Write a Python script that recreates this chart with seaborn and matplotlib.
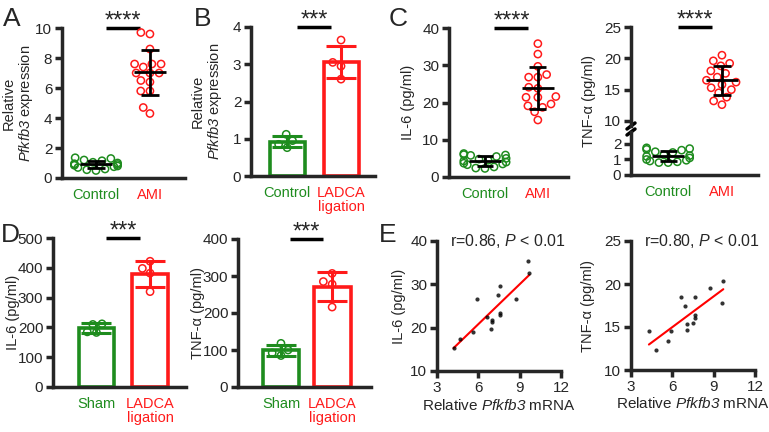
import numpy as np
import pandas as pd
import matplotlib.pyplot as plt
import seaborn as sns

# ---- data ----
a_labels = ['Control', 'AMI']
a_ctrl = [1.35, 1.3, 1.2, 1.15, 1.05, 1.0, 0.95, 0.9, 0.88, 0.85, 0.8, 0.75, 0.7, 0.6, 0.55, 0.5]
a_ami = [9.7, 9.6, 8.6, 7.6, 7.6, 7.6, 7.4, 7.0, 7.0, 7.0, 6.5, 6.4, 5.8, 5.8, 4.7, 4.3]

b_labels = ['Control', 'LADCA\nligation']
b_ctrl = [0.76, 0.95, 1.12, 0.85]
b_ladca = [3.65, 2.6, 3.05, 2.95]

c_labels = ['Control', 'AMI']
c_il6_ctrl = [6.3, 6.0, 5.9, 5.8, 5.5, 5.0, 4.8, 4.5, 4.3, 4.0, 3.7, 3.5, 3.3, 2.7, 2.4, 2.3]
c_il6_ami = [35.8, 33.0, 29.7, 26.8, 26.8, 27.5, 23.8, 24.1, 21.4, 21.4, 21.6, 19.6, 19.1, 18.7, 17.5, 15.3]
c_tnf_ctrl = [1.75, 1.7, 1.65, 1.6, 1.5, 1.45, 1.3, 1.25, 1.2, 1.1, 1.0, 0.95, 0.9, 0.85, 0.8, 0.8]
c_tnf_ami = [20.5, 19.6, 19.2, 18.8, 18.0, 17.6, 17.0, 16.5, 16.2, 15.8, 15.3, 15.0, 14.5, 13.8, 13.2, 12.6]

d_labels = ['Sham', 'LADCA\nligation']
d_il6_sham = [185, 210, 212, 183]
d_il6_ladca = [422, 398, 382, 320]
d_tnf_sham = [85, 118, 100, 92]
d_tnf_ladca = [307, 278, 285, 216]

e_pfk_il6 = [4.2, 4.7, 5.6, 5.9, 6.6, 6.9, 7.0, 7.0, 7.45, 7.55, 7.6, 7.6, 8.7, 9.6, 9.7]
e_il6 = [15.2, 17.5, 18.9, 26.6, 22.5, 19.8, 21.7, 21.3, 27.5, 29.6, 23.3, 22.9, 26.7, 35.4, 32.7]
e_pfk_tnf = [4.3, 4.8, 5.7, 5.9, 6.65, 6.95, 7.03, 7.03, 7.5, 7.65, 7.65, 7.65, 8.75, 9.6, 9.7]
e_tnf = [14.5, 12.3, 13.4, 14.5, 18.5, 17.5, 15.3, 14.7, 15.5, 18.5, 16.1, 16.4, 19.5, 17.8, 20.4]

GREEN = '#1E8C1E'
RED = '#FF1A1A'

sns.set_style('ticks')
plt.rcParams['font.family'] = ['Liberation Sans', 'DejaVu Sans']
# all math text here is italic gene/stat symbols
plt.rcParams['mathtext.fontset'] = 'custom'
plt.rcParams['mathtext.rm'] = 'Liberation Sans:italic'
plt.rcParams['mathtext.it'] = 'Liberation Sans:italic'

W, H = 769, 432
fig = plt.figure(figsize=(W / 100, H / 100), dpi=100)

PFK = r'$\mathrm{Pfkfb3}$'
FS = 10.5
TFS = 11


def make_ax(l, t, r, b):
    return fig.add_axes([l / W, 1 - b / H, (r - l) / W, (b - t) / H])


def style(ax, cat=True):
    sns.despine(ax=ax)
    for sp in ['left', 'bottom']:
        ax.spines[sp].set_linewidth(2.5)
    ax.tick_params(axis='y', width=2.5, length=5, labelsize=TFS, pad=2)
    if cat:
        ax.tick_params(axis='x', length=0, labelsize=FS, pad=7)
    else:
        ax.tick_params(axis='x', width=2.5, length=5, labelsize=TFS, pad=2)
    ax.set_xlabel('')
    ax.set_ylabel('')


def ylab(ax, text, right_px, l, r):
    ax.set_ylabel(text, fontsize=FS, linespacing=1.1)
    ax.yaxis.set_label_coords((right_px - l) / (r - l), 0.5)


def color_cats(ax, colors):
    for lab, c in zip(ax.get_xticklabels(), colors):
        lab.set_color(c)
        lab.set_linespacing(1.0)


def make_df(vals, labels):
    return pd.DataFrame({'g': np.repeat(labels, [len(v) for v in vals]),
                         'v': np.concatenate(vals)})


def hollow_swarm(ax, df, labels, colors, size=5.2):
    n0 = len(ax.collections)
    sns.swarmplot(data=df, x='g', y='v', hue='g', order=labels, hue_order=labels,
                  palette=dict(zip(labels, colors)), size=size, ax=ax, legend=False, zorder=3)
    for coll in ax.collections[n0:]:
        fc = coll.get_facecolors()
        coll.set_edgecolors(fc)
        coll.set_facecolors('none')
        coll.set_linewidths(1.1)


def mean_sd(ax, vals):
    for i, v in enumerate(vals):
        m, s = np.mean(v), np.std(v, ddof=1)
        ax.hlines(m, i - 0.3, i + 0.3, color='k', lw=2, zorder=5)
        ax.vlines(i, m - s, m + s, color='k', lw=2, zorder=5)
        ax.hlines([m - s, m + s], i - 0.16, i + 0.16, color='k', lw=2, zorder=5)


def sig(ax, top, stars):
    ax.plot([0.18, 0.82], [top, top], color='k', lw=2.5, clip_on=False, solid_capstyle='butt')
    ax.text(0.5, top, stars, ha='center', va='baseline', fontsize=17)


def dot_panel(ax, vals, labels, ylim, yticks, stars):
    colors = [GREEN, RED]
    hollow_swarm(ax, make_df(vals, labels), labels, colors)
    mean_sd(ax, vals)
    style(ax)
    ax.set_ylim(*ylim)
    ax.set_yticks(yticks)
    color_cats(ax, colors)
    sig(ax, ylim[1], stars)


def bar_panel(ax, vals, labels, ylim, yticks, stars, width):
    colors = [GREEN, RED]
    df = make_df(vals, labels)
    sns.barplot(data=df, x='g', y='v', hue='g', order=labels, hue_order=labels,
                palette=dict(zip(labels, colors)), fill=False, errorbar=None,
                width=width, linewidth=2.6, ax=ax, legend=False)
    hollow_swarm(ax, df, labels, colors)
    for i, (v, c) in enumerate(zip(vals, colors)):
        ax.errorbar(i, np.mean(v), yerr=np.std(v, ddof=1), color=c, lw=2.2,
                    capsize=11, capthick=2.2, zorder=4)
    style(ax)
    ax.set_ylim(*ylim)
    ax.set_yticks(yticks)
    color_cats(ax, colors)
    sig(ax, ylim[1], stars)


# ---- A ----
ax = make_ax(62, 28, 185, 178)
dot_panel(ax, [a_ctrl, a_ami], a_labels, (0, 10), range(0, 11, 2), '****')
ax.set_xlim(-0.63, 1.65)
ylab(ax, 'Relative\n' + PFK + ' expression', 35, 62, 185)

# ---- B ----
ax = make_ax(251, 27, 375, 176)
bar_panel(ax, [b_ctrl, b_ladca], b_labels, (0, 4), range(0, 5), '***', 0.65)
ax.set_xlim(-0.67, 1.63)
ylab(ax, 'Relative\n' + PFK + ' expression', 224, 251, 375)

# ---- C IL-6 ----
ax = make_ax(449, 28, 568, 177)
dot_panel(ax, [c_il6_ctrl, c_il6_ami], c_labels, (0, 40), range(0, 41, 10), '****')
ax.set_xlim(-0.68, 1.57)
ylab(ax, 'IL-6 (pg/ml)', 415, 449, 568)

# ---- C TNF (broken axis) ----
lo = make_ax(631, 132, 758, 175)
hi = make_ax(631, 27, 758, 126)
colors = [GREEN, RED]
dfc = make_df([c_tnf_ctrl, c_tnf_ami], c_labels)
for a in (lo, hi):
    hollow_swarm(a, dfc, c_labels, colors)
    mean_sd(a, [c_tnf_ctrl, c_tnf_ami])
    style(a)
    a.set_xlim(-0.69, 1.67)
lo.set_ylim(0, 2.77)
lo.set_yticks([0, 1, 2])
color_cats(lo, colors)
hi.set_ylim(9.2, 25)
hi.set_yticks([10, 15, 20, 25])
hi.spines['bottom'].set_visible(False)
hi.tick_params(axis='x', bottom=False, labelbottom=False)
sig(hi, 25, '****')
dx, dy = 4 / 127, 3 / 99
hi.plot([-dx, dx], [-dy, dy], transform=hi.transAxes, color='k', lw=2.5, clip_on=False)
dy2 = 3 / 43
lo.plot([-dx, dx], [1 - dy2, 1 + dy2], transform=lo.transAxes, color='k', lw=2.5, clip_on=False)
fig.text(589 / W, 1 - 101 / H, 'TNF-α (pg/ml)', rotation=90, ha='center', va='center', fontsize=FS)

# ---- D IL-6 ----
ax = make_ax(53, 238, 186, 387)
bar_panel(ax, [d_il6_sham, d_il6_ladca], d_labels, (0, 500), range(0, 501, 100), '***', 0.66)
ax.set_xlim(-0.81, 1.67)
ylab(ax, 'IL-6 (pg/ml)', 20, 53, 186)

# ---- D TNF ----
ax = make_ax(238, 239, 371, 387)
bar_panel(ax, [d_tnf_sham, d_tnf_ladca], d_labels, (0, 400), range(0, 401, 100), '***', 0.72)
ax.set_xlim(-0.84, 1.76)
ylab(ax, 'TNF-α (pg/ml)', 205, 238, 371)

# ---- E ----
for (l, t, r, b), x, y, ylim, yt, ytxt, rtxt, lab_px in [
        ((437, 241, 561, 371), e_pfk_il6, e_il6, (10, 40), range(10, 41, 10), 'IL-6 (pg/ml)', 'r=0.86, ', 406),
        ((631, 241, 755, 370), e_pfk_tnf, e_tnf, (10, 25), range(10, 26, 5), 'TNF-α (pg/ml)', 'r=0.80, ', 595)]:
    ax = make_ax(l, t, r, b)
    sns.regplot(x=np.array(x), y=np.array(y), ax=ax, ci=None,
                scatter_kws={'s': 9, 'color': 'k', 'linewidths': 0, 'zorder': 3},
                line_kws={'color': 'red', 'lw': 1.5})
    style(ax, cat=False)
    ax.set_xlim(3, 12)
    ax.set_xticks([3, 6, 9, 12])
    ax.set_ylim(*ylim)
    ax.set_yticks(yt)
    ax.set_xlabel('Relative ' + PFK + ' mRNA', fontsize=FS + 0.5, labelpad=2)
    ylab(ax, ytxt, lab_px, l, r)
    ax.text(0.57, 1.0, rtxt + r'$P$ < 0.01', transform=ax.transAxes,
            ha='center', va='center', fontsize=11.5)

# ---- panel letters ----
for letter, x, y in [('A', 12, 19), ('B', 203, 19), ('C', 398, 19), ('D', 10, 235), ('E', 388, 235)]:
    fig.text(x / W, 1 - y / H, letter, ha='center', va='center', fontsize=19)

fig.savefig('out.png', dpi=100)
